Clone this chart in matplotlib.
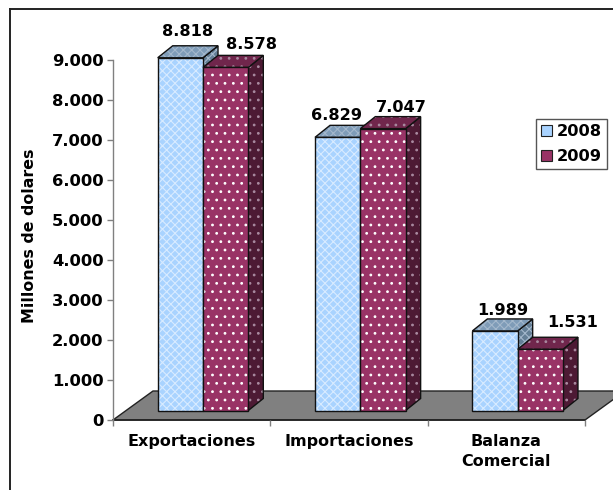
import matplotlib
matplotlib.use("Agg")
import matplotlib.pyplot as plt
from matplotlib.lines import Line2D
from matplotlib.patches import Patch, Polygon

categories = ["Exportaciones", "Importaciones", "Balanza\nComercial"]
series_names = ["2008", "2009"]
values_2008 = [8818, 6829, 1989]
values_2009 = [8578, 7047, 1531]
label_2008 = ["8.818", "6.829", "1.989"]
label_2009 = ["8.578", "7.047", "1.531"]
y_ticks = [0, 1000, 2000, 3000, 4000, 5000, 6000, 7000, 8000, 9000]
y_tick_labels = ["0", "1.000", "2.000", "3.000", "4.000", "5.000", "6.000", "7.000", "8.000", "9.000"]

W, H = 613, 490
PX = 0.72  # points per pixel at dpi 100
plt.rcParams["font.family"] = "DejaVu Sans"
plt.rcParams["font.weight"] = "bold"
plt.rcParams["hatch.linewidth"] = 0.8

fig = plt.figure(figsize=(W / 100, H / 100), dpi=100, facecolor="white")
L, R, T, B = 113, 585, 60, 420
ax = fig.add_axes([L / W, 1 - B / H, (R - L) / W, (B - T) / H])
ax.set_xlim(0, 3)
ax.set_ylim(0, 9000)
ax.patch.set_visible(False)
xpx = (R - L) / 3          # px per category
ypx = (B - T) / 9000       # px per unit

# chart frame (open at right and bottom, as cropped)
for xs, ys in [((9.5, 9.5), (490, 9)), ((9.5, 613), (9, 9))]:
    fig.add_artist(Line2D([x / W for x in xs], [1 - y / H for y in ys], color="#222222", lw=1.4))

# floor
fdx, fdy = 40 / xpx, 29 / ypx
ax.add_patch(Polygon([(0, 0), (3, 0), (3 + fdx, fdy), (fdx, fdy)], closed=True, facecolor="#808080",
                     edgecolor="#222222", lw=1, clip_on=False, zorder=1))

bar_w = 45.3 / xpx
depth_x, depth_y = 15 / xpx, 12 / ypx
lift = 9.5 / ypx
start = 44.7 / xpx


def face(pts, color, hatch, hcolor, z):
    ax.add_patch(Polygon(pts, closed=True, facecolor=color, edgecolor=hcolor, hatch=hatch, lw=0, clip_on=False, zorder=z))
    ax.add_patch(Polygon(pts, closed=True, fill=False, edgecolor="#111111", lw=1, clip_on=False, zorder=z + 0.1))


styles = [
    dict(front="#A9D3FF", top="#7F9CB8", side="#647F96", hatch="xxxx", hc="#D8EBFF", hc2="#A4B8CC"),
    dict(front="#993366", top="#70264C", side="#4D1A34", hatch="..", hc="#FFFFFF", hc2="#A98AA0"),
]
offsets = [[(7.7, 26), (-1.5, 21.5), (8, 20)], [(25.5, 23), (18.7, 20.7), (32, 26.7)]]
all_vals = [values_2008, values_2009]
all_labels = [label_2008, label_2009]

z = 2
for c in range(3):
    for s in range(2):
        v = all_vals[s][c]
        st = styles[s]
        x0 = c + start + s * bar_w
        x1 = x0 + bar_w
        y0, y1 = lift, v + lift
        face([(x1, y0), (x1 + depth_x, y0 + depth_y), (x1 + depth_x, y1 + depth_y), (x1, y1)], st["side"], st["hatch"], st["hc2"], z)
        face([(x0, y1), (x1, y1), (x1 + depth_x, y1 + depth_y), (x0 + depth_x, y1 + depth_y)], st["top"], st["hatch"], st["hc2"], z + 0.2)
        ax.bar(x0, v, bar_w, bottom=lift, align="edge", color=st["front"], edgecolor=st["hc"], hatch=st["hatch"], lw=0, clip_on=False, zorder=z + 0.4)
        ax.bar(x0, v, bar_w, bottom=lift, align="edge", fill=False, edgecolor="#111111", lw=1, clip_on=False, zorder=z + 0.5)
        z += 1
        ox, oy = offsets[s][c]
        ax.annotate(all_labels[s][c], xy=(x0 + bar_w / 2, y1), xytext=(ox * PX, oy * PX), textcoords="offset points",
                    ha="center", va="center", fontsize=11.6, fontweight="bold", color="black", zorder=50, annotation_clip=False)

# axes
for sp in ("top", "right"):
    ax.spines[sp].set_visible(False)
ax.spines["left"].set_color("#808080")
ax.spines["left"].set_linewidth(1)
ax.spines["bottom"].set_color("#222222")
ax.spines["bottom"].set_linewidth(1.2)
ax.spines["bottom"].set_zorder(1.5)
ax.set_yticks(y_ticks)
ax.set_yticklabels(y_tick_labels, fontsize=11.8, fontweight="bold")
ax.tick_params(axis="y", length=6 * PX, width=1, color="#808080", pad=2.5)
ax.set_xticks([0, 1, 2, 3])
ax.set_xticklabels([])
ax.tick_params(axis="x", which="major", length=6 * PX, width=1, color="#808080")
ax.set_xticks([0.5, 1.5, 2.5], minor=True)
ax.set_xticklabels(categories, minor=True, fontsize=11.5, fontweight="bold", linespacing=1.45)
ax.tick_params(axis="x", which="minor", length=0, pad=10)

fig.text(30 / W, 1 - 236 / H, "Millones de dolares", rotation=90, ha="center", va="center", fontsize=11.4, fontweight="bold")

handles = [Patch(facecolor=styles[i]["front"], edgecolor="#222222", label=series_names[i], lw=0.8) for i in range(2)]
leg = fig.legend(handles=handles, loc="upper left", bbox_to_anchor=(536 / W, 1 - 119.3 / H), fontsize=11.7, frameon=True,
                 fancybox=False, edgecolor="#555555", framealpha=1, borderpad=0.3, labelspacing=0.62,
                 handlelength=0.68, handleheight=0.68, handletextpad=0.32, borderaxespad=0)
leg.get_frame().set_linewidth(1)

fig.savefig("out.png", dpi=100)
